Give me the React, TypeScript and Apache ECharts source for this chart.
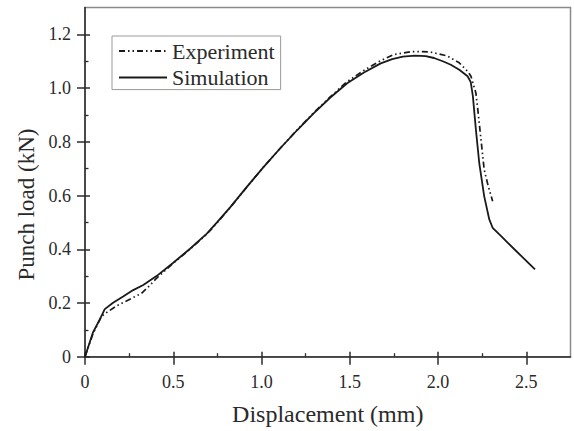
import React, { useEffect, useRef } from "react";
import * as echarts from "echarts";

const xTickValues = [0, 0.5, 1.0, 1.5, 2.0, 2.5];
const xTickLabels = ["0", "0.5", "1.0", "1.5", "2.0", "2.5"];
const xMinorValues = [0.25, 0.75, 1.25, 1.75, 2.25];
const yTickValues = [0, 0.2, 0.4, 0.6, 0.8, 1.0, 1.2];
const yTickLabels = ["0", "0.2", "0.4", "0.6", "0.8", "1.0", "1.2"];
const yMinorValues = [0.1, 0.3, 0.5, 0.7, 0.9, 1.1];

const seriesNames = ["Experiment", "Simulation"];

const simulationX = [
  0, 0.045, 0.084, 0.112, 0.159, 0.216, 0.273, 0.33, 0.405, 0.5, 0.595, 0.69, 0.75,
  0.822, 0.917, 1.011, 1.106, 1.201, 1.295, 1.39, 1.485, 1.58, 1.675, 1.74, 1.8, 1.87,
  1.93, 1.977, 2.03, 2.072, 2.12, 2.167, 2.185, 2.197, 2.214, 2.233, 2.261, 2.29, 2.309,
  2.347, 2.432, 2.549,
];
const simulationY = [
  0, 0.09, 0.139, 0.177, 0.201, 0.224, 0.248, 0.267, 0.3, 0.35, 0.402, 0.458, 0.502,
  0.556, 0.632, 0.706, 0.776, 0.843, 0.906, 0.965, 1.018, 1.058, 1.092, 1.108, 1.117, 1.121,
  1.119, 1.112, 1.099, 1.087, 1.068, 1.044, 1.022, 0.97, 0.846, 0.722, 0.598, 0.511, 0.48,
  0.455, 0.4, 0.325,
];

const experimentX = [
  0, 0.045, 0.093, 0.122, 0.178, 0.254, 0.32, 0.368, 0.405, 0.5, 0.595, 0.69, 0.75,
  0.822, 0.917, 1.011, 1.106, 1.201, 1.295, 1.39, 1.485, 1.58, 1.674, 1.75, 1.85, 1.95,
  2.05, 2.12, 2.17, 2.186, 2.214, 2.227, 2.243, 2.261, 2.284, 2.309,
];
const experimentY = [
  0, 0.085, 0.15, 0.164, 0.189, 0.214, 0.236, 0.266, 0.292, 0.348, 0.4, 0.456, 0.5,
  0.555, 0.632, 0.706, 0.776, 0.844, 0.908, 0.968, 1.024, 1.066, 1.102, 1.125, 1.136, 1.135,
  1.12, 1.094, 1.06, 1.044, 0.982, 0.908, 0.808, 0.697, 0.635, 0.579,
];

const FONT = '"Liberation Serif", "Times New Roman", serif';
const TEXT = "#2a2a2a";
const AXIS = "#2b2b2b";
const LINE = "#1a1a1a";

const zip = (xs: number[], ys: number[]) => xs.map((x, i) => [x, ys[i]]);

const labelFor = (values: number[], labels: string[]) => (v: number) => {
  const i = values.findIndex((t) => Math.abs(t - v) < 1e-6);
  return i >= 0 ? labels[i] : "";
};

export default function App() {
  const ref = useRef<HTMLDivElement>(null);

  useEffect(() => {
    if (!ref.current) return;
    const chart = echarts.init(ref.current, undefined, { renderer: "svg" });
    const gridPos = { left: 85, right: 3.5, top: 7.5, bottom: 74.3 };
    const xBase = { type: "value", min: 0, max: 2.75, splitLine: { show: false } };
    const yBase = { type: "value", min: 0, max: 1.3, splitLine: { show: false } };
    const hidden = { axisLine: { show: false }, axisLabel: { show: false } };

    chart.setOption({
      animation: false,
      backgroundColor: "#ffffff",
      color: [LINE, LINE],
      grid: [
        { ...gridPos, show: true, borderColor: "#8a8a8a", borderWidth: 1.5, backgroundColor: "rgba(0,0,0,0)" },
        { ...gridPos },
        { ...gridPos },
      ],
      xAxis: [
        {
          ...xBase,
          gridIndex: 0,
          axisLine: { show: true, lineStyle: { color: AXIS, width: 1.5 } },
          axisTick: { show: true, inside: true, length: 5, customValues: xTickValues, lineStyle: { color: AXIS, width: 1.5 } },
          axisLabel: {
            show: true,
            customValues: xTickValues,
            margin: 16,
            fontSize: 18,
            fontFamily: FONT,
            color: TEXT,
            formatter: labelFor(xTickValues, xTickLabels),
          },
          name: "Displacement (mm)",
          nameLocation: "middle",
          nameGap: 45,
          nameTextStyle: { fontSize: 24, fontFamily: FONT, color: TEXT },
        },
        {
          ...xBase,
          ...hidden,
          gridIndex: 1,
          axisTick: { show: true, inside: false, length: 8, customValues: xTickValues, lineStyle: { color: AXIS, width: 1.5 } },
        },
        {
          ...xBase,
          ...hidden,
          gridIndex: 2,
          axisTick: { show: true, inside: true, length: 3.5, customValues: xMinorValues, lineStyle: { color: AXIS, width: 1.3 } },
        },
      ],
      yAxis: [
        {
          ...yBase,
          gridIndex: 0,
          axisLine: { show: true, lineStyle: { color: AXIS, width: 1.5 } },
          axisTick: { show: true, inside: true, length: 5, customValues: yTickValues, lineStyle: { color: AXIS, width: 1.5 } },
          axisLabel: {
            show: true,
            customValues: yTickValues,
            margin: 14,
            fontSize: 18,
            fontFamily: FONT,
            color: TEXT,
            formatter: labelFor(yTickValues, yTickLabels),
          },
          name: "Punch load (kN)",
          nameLocation: "middle",
          nameGap: 47,
          nameTextStyle: { fontSize: 23, fontFamily: FONT, color: TEXT, padding: [0, 45, 0, 0] },
        },
        {
          ...yBase,
          ...hidden,
          gridIndex: 1,
          axisTick: { show: true, inside: false, length: 8, customValues: yTickValues, lineStyle: { color: AXIS, width: 1.5 } },
        },
        {
          ...yBase,
          ...hidden,
          gridIndex: 2,
          axisTick: { show: true, inside: true, length: 3.5, customValues: yMinorValues, lineStyle: { color: AXIS, width: 1.3 } },
        },
      ],
      legend: {
        data: seriesNames,
        orient: "vertical",
        left: 112,
        top: 36,
        itemWidth: 48,
        itemHeight: 14,
        itemGap: 2.6,
        padding: [3, 6, 0, 6],
        borderColor: "#9a9a9a",
        borderWidth: 1,
        backgroundColor: "#ffffff",
        itemStyle: { opacity: 0 },
        textStyle: { fontFamily: FONT, fontSize: 22, color: TEXT, lineHeight: 24 },
      },
      series: [
        {
          name: seriesNames[0],
          type: "line",
          xAxisIndex: 0,
          yAxisIndex: 0,
          data: zip(experimentX, experimentY),
          symbol: "none",
          z: 3,
          itemStyle: { color: LINE },
          lineStyle: { color: LINE, width: 1.7, type: [6, 3, 1.5, 3, 1.5, 3] },
        },
        {
          name: seriesNames[1],
          type: "line",
          xAxisIndex: 0,
          yAxisIndex: 0,
          data: zip(simulationX, simulationY),
          symbol: "none",
          z: 2,
          itemStyle: { color: LINE },
          lineStyle: { color: LINE, width: 1.8, type: "solid" },
        },
      ],
    });
    return () => chart.dispose();
  }, []);

  return (
    <div
      ref={ref}
      style={{ position: "fixed", left: 0, top: 0, width: 574, height: 431, background: "#fff" }}
    />
  );
}
